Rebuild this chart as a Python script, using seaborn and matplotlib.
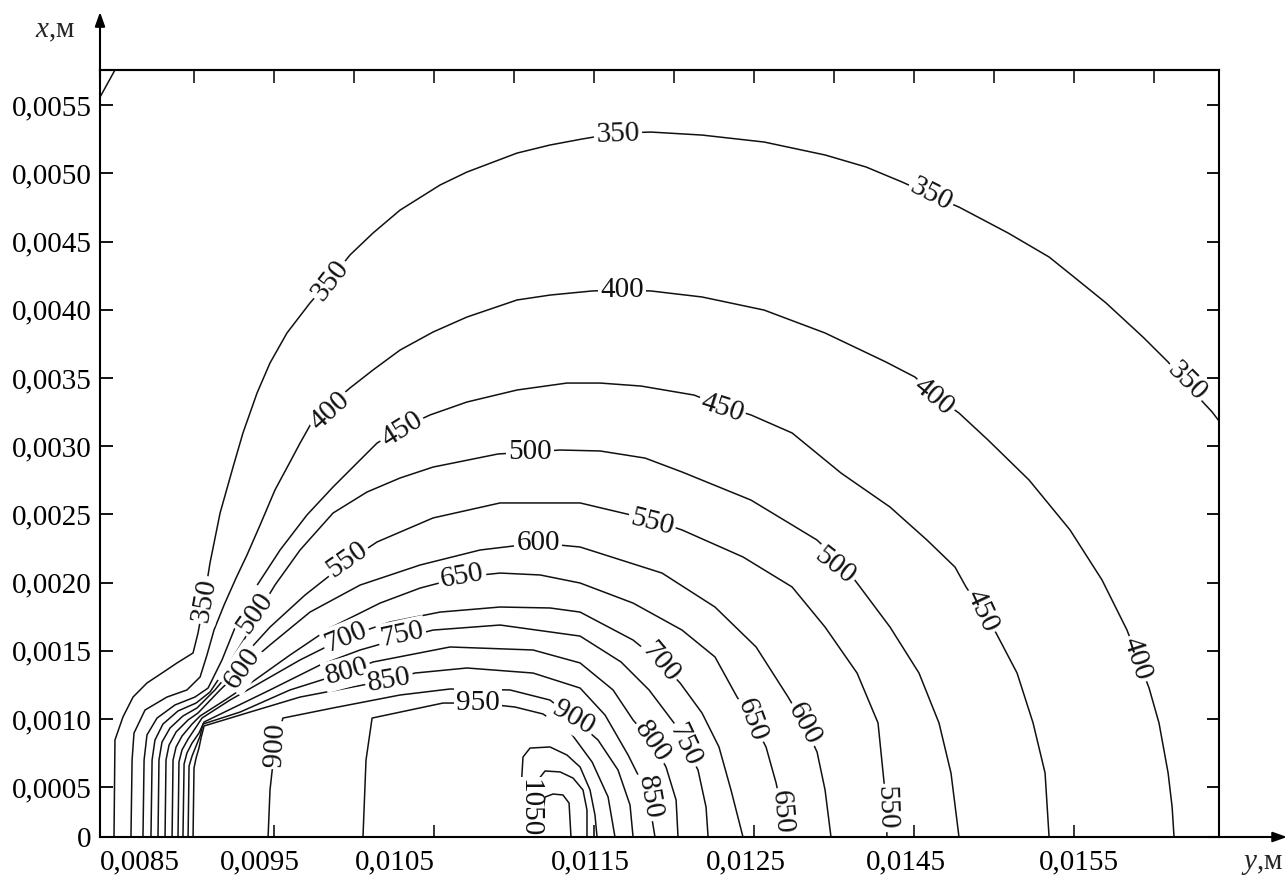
import numpy as np
import pandas as pd
import matplotlib
matplotlib.use("Agg")
import matplotlib.pyplot as plt
import seaborn as sns

# ---------------- data: isotherms, points (y, x) in millimetres ----------------
iso_350 = [(8.500,0.135),(8.506,0.846),(8.556,1.015),(8.619,1.161),(8.706,1.264),(8.800,1.337),
           (8.894,1.411),(8.994,1.484),(9.025,1.630),(9.063,1.872),(9.100,2.144),(9.163,2.510),
           (9.244,2.847),(9.306,3.097),(9.394,3.390),(9.475,3.610),(9.581,3.830),(9.725,4.050),
           (9.850,4.218),(9.975,4.402),(10.119,4.563),(10.288,4.731),(10.538,4.915),(10.706,5.010),
           (11.019,5.149),(11.225,5.208),(11.425,5.252),(11.650,5.296),(11.856,5.303),(12.175,5.281),
           (12.563,5.230),(12.944,5.135),(13.200,5.047),(13.425,4.937),(13.606,4.841),(13.781,4.753),
           (14.088,4.563),(14.344,4.387),(14.500,4.240),(14.700,4.050),(14.931,3.800),(15.088,3.617),
           (15.206,3.449),(15.363,3.251),(15.406,3.185)]
iso_350_corner = [(8.413,5.560),(8.506,5.758)]
iso_400 = [(8.606,0.135),(8.613,0.699),(8.625,0.897),(8.694,1.066),(8.831,1.161),(8.956,1.213),
           (9.038,1.308),(9.081,1.469),(9.125,1.652),(9.188,1.836),(9.263,2.034),(9.331,2.202),
           (9.413,2.422),(9.506,2.679),(9.600,2.884),(9.663,3.023),(9.744,3.192),(9.850,3.302),
           (9.975,3.427),(10.119,3.559),(10.288,3.705),(10.494,3.837),(10.706,3.947),(11.019,4.072),
           (11.225,4.108),(11.488,4.138),(11.675,4.145),(11.856,4.138),(12.175,4.094),(12.563,3.998),
           (12.944,3.830),(13.325,3.617),(13.506,3.507),(13.625,3.375),(13.781,3.243),(13.963,3.045),
           (14.219,2.752),(14.475,2.386),(14.675,2.019),(14.831,1.652),(14.900,1.440),(14.969,1.227),
           (15.031,0.971),(15.088,0.604),(15.113,0.355),(15.125,0.135)]
iso_450 = [(8.681,0.135),(8.688,0.699),(8.706,0.883),(8.769,1.007),(8.881,1.103),(9.006,1.161),
           (9.088,1.227),(9.175,1.433),(9.263,1.689),(9.375,1.946),(9.538,2.239),(9.706,2.496),
           (9.869,2.701),(10.038,2.899),(10.144,3.023),(10.300,3.133),(10.475,3.229),(10.706,3.324),
           (11.019,3.412),(11.331,3.463),(11.538,3.463),(11.794,3.441),(12.125,3.375),(12.300,3.295),
           (12.481,3.229),(12.738,3.097),(13.044,2.803),(13.350,2.554),(13.581,2.312),(13.756,2.114),
           (13.825,1.968),(13.925,1.792),(14.013,1.630),(14.144,1.337),(14.244,0.971),(14.319,0.604),
           (14.344,0.135)]
iso_500 = [(8.731,0.135),(8.738,0.699),(8.756,0.846),(8.806,0.963),(8.900,1.059),(9.013,1.117),
           (9.100,1.198),(9.213,1.396),(9.319,1.594),(9.400,1.777),(9.506,1.982),(9.663,2.239),
           (9.869,2.510),(10.081,2.664),(10.288,2.767),(10.494,2.847),(10.900,2.943),(11.100,2.957),
           (11.288,2.972),(11.538,2.965),(11.819,2.913),(12.050,2.811),(12.481,2.605),(12.894,2.312),
           (13.056,2.129),(13.144,1.997),(13.350,1.674),(13.531,1.337),(13.656,0.971),(13.731,0.604),
           (13.781,0.135)]
iso_550 = [(8.775,0.135),(8.781,0.699),(8.800,0.831),(8.850,0.934),(8.931,1.022),(9.019,1.081),
           (9.131,1.213),(9.288,1.433),(9.475,1.674),(9.694,1.909),(9.956,2.151),(10.144,2.298),
           (10.494,2.474),(10.913,2.584),(11.413,2.584),(11.863,2.459),(12.050,2.386),(12.431,2.188),
           (12.738,1.968),(12.944,1.674),(13.144,1.337),(13.275,0.971),(13.313,0.531),(13.325,0.348),
           (13.331,0.135)]
iso_600 = [(8.819,0.135),(8.825,0.699),(8.844,0.809),(8.888,0.905),(8.963,0.993),(9.025,1.044),
           (9.163,1.213),(9.306,1.374),(9.475,1.543),(9.725,1.784),(10.038,1.982),(10.413,2.129),
           (10.788,2.239),(11.150,2.290),(11.413,2.261),(11.925,2.070),(12.256,1.821),(12.513,1.528),
           (12.713,1.161),(12.813,0.963),(12.894,0.758),(12.944,0.480),(12.981,0.135)]
iso_650 = [(8.863,0.135),(8.869,0.699),(8.888,0.795),(8.925,0.875),(8.988,0.963),(9.038,1.022),
           (9.194,1.139),(9.381,1.286),(9.600,1.469),(9.850,1.667),(10.163,1.850),(10.413,1.960),
           (10.675,2.041),(10.913,2.070),(11.163,2.056),(11.413,1.997),(11.744,1.850),(12.050,1.652),
           (12.256,1.455),(12.394,1.161),(12.488,0.993),(12.575,0.795),(12.638,0.531),(12.675,0.318),
           (12.694,0.135)]
iso_700 = [(8.900,0.135),(8.906,0.685),(8.925,0.773),(8.963,0.853),(9.013,0.941),(9.050,1.007),
           (9.225,1.139),(9.444,1.286),(9.663,1.433),(9.950,1.601),(10.225,1.711),(10.538,1.784),
           (10.913,1.821),(11.225,1.814),(11.413,1.784),(11.744,1.579),(11.913,1.418),(12.038,1.264),
           (12.175,1.044),(12.281,0.795),(12.356,0.480),(12.431,0.135)]
iso_750 = [(8.931,0.135),(8.938,0.670),(8.956,0.751),(8.988,0.824),(9.031,0.897),(9.063,0.978),
           (9.256,1.088),(9.475,1.213),(9.788,1.396),(10.038,1.506),(10.300,1.594),(10.494,1.652),
           (10.913,1.689),(11.413,1.608),(11.669,1.418),(11.844,1.213),(12.000,0.971),(12.069,0.809),
           (12.150,0.626),(12.200,0.355),(12.213,0.135)]
iso_800 = [(8.963,0.135),(8.969,0.655),(8.988,0.729),(9.013,0.802),(9.038,0.875),(9.056,0.963),
           (9.288,1.051),(9.600,1.213),(9.956,1.345),(10.119,1.418),(10.600,1.528),(11.119,1.506),
           (11.413,1.411),(11.619,1.213),(11.744,0.993),(11.863,0.831),(11.950,0.648),(12.013,0.406),
           (12.025,0.135)]
iso_850 = [(8.994,0.135),(9.000,0.641),(9.013,0.714),(9.031,0.787),(9.044,0.861),(9.063,0.949),
           (9.350,1.051),(9.663,1.161),(10.219,1.286),(10.381,1.337),(10.706,1.374),(11.119,1.337),
           (11.413,1.227),(11.569,1.029),(11.713,0.736),(11.838,0.443),(11.881,0.135)]
iso_900 = [(9.463,0.135),(9.475,0.480),(9.506,0.809),(9.556,1.007),(9.869,1.081),(10.288,1.176),
           (10.600,1.220),(10.975,1.213),(11.225,1.139),(11.369,1.007),(11.525,0.846),(11.650,0.626),
           (11.725,0.370),(11.744,0.135)]
iso_950 = [(10.056,0.135),(10.075,0.699),(10.113,1.007),(10.556,1.117),(10.775,1.117),(11.006,1.088),
           (11.181,1.037),(11.350,0.905),(11.488,0.685),(11.588,0.428),(11.631,0.135)]
iso_1000 = [(11.038,0.135),(11.044,0.480),(11.056,0.721),(11.100,0.787),(11.225,0.795),(11.331,0.736),
            (11.413,0.648),(11.475,0.480),(11.506,0.296),(11.519,0.135)]
iso_1050 = [(11.106,0.135),(11.113,0.406),(11.150,0.553),(11.194,0.619),(11.288,0.612),(11.369,0.567),
            (11.431,0.480),(11.456,0.333),(11.456,0.135)]
iso_1100 = [(11.175,0.135),(11.181,0.333),(11.194,0.428),(11.244,0.450),(11.306,0.443),(11.344,0.384),
            (11.350,0.260),(11.356,0.135)]

# contour labels: text, y (mm), x (mm), rotation (deg)
iso_labels = [("350", 11.650, 5.285, 2), ("350", 9.850, 4.218, 52), ("350", 9.063, 1.872, 80),
              ("350", 13.606, 4.841, -27), ("350", 15.206, 3.478, -45),
              ("400", 9.850, 3.258, 42), ("400", 11.675, 4.145, 0), ("400", 13.625, 3.361, -40),
              ("400", 14.894, 1.440, -72),
              ("450", 10.300, 3.119, 32), ("450", 12.300, 3.280, -18), ("450", 13.925, 1.792, -65),
              ("500", 11.100, 2.957, 0), ("500", 9.381, 1.777, 55), ("500", 13.006, 2.122, -38),
              ("550", 9.956, 2.166, 35), ("550", 11.863, 2.444, -14), ("550", 13.325, 0.348, -88),
              ("600", 11.150, 2.290, 0), ("600", 9.306, 1.374, 55), ("600", 12.813, 0.963, -62),
              ("650", 10.675, 2.048, 10), ("650", 12.488, 0.993, -70), ("650", 12.675, 0.318, -85),
              ("700", 9.950, 1.601, 22), ("700", 11.913, 1.418, -50),
              ("750", 10.300, 1.616, 12), ("750", 12.069, 0.809, -65),
              ("800", 9.956, 1.345, 15), ("800", 11.863, 0.831, -55),
              ("850", 10.219, 1.286, 10), ("850", 11.850, 0.428, -80),
              ("900", 9.506, 0.809, 87), ("900", 11.369, 1.007, -30),
              ("950", 10.775, 1.117, 0), ("1050", 11.094, 0.345, -90)]

# axis ticks
x_tick_labels = ["0,0085", "0,0095", "0,0105", "0,0115", "0,0125", "0,0145", "0,0155"]
x_tick_label_pos = [0.008663, 0.009413, 0.010256, 0.011475, 0.012450, 0.013450, 0.014531]
x_tick_marks_bottom = [0.0095, 0.0105, 0.0115, 0.0125, 0.0135, 0.0145]
x_tick_marks_top = [0.0090 + 0.0005 * k for k in range(13)]
y_tick_labels = ["0", "0,0005", "0,0010", "0,0015", "0,0020", "0,0025", "0,0030",
                 "0,0035", "0,0040", "0,0045", "0,0050", "0,0055"]
y_tick_pos = [0.000135, 0.0005, 0.0010, 0.0015, 0.0020, 0.0025, 0.0030,
              0.0035, 0.0040, 0.0045, 0.0050, 0.0055]

isolines = [("350", 350, iso_350), ("350c", 350, iso_350_corner), ("400", 400, iso_400),
            ("450", 450, iso_450), ("500", 500, iso_500), ("550", 550, iso_550),
            ("600", 600, iso_600), ("650", 650, iso_650), ("700", 700, iso_700),
            ("750", 750, iso_750), ("800", 800, iso_800), ("850", 850, iso_850),
            ("900", 900, iso_900), ("950", 950, iso_950), ("1000", 1000, iso_1000),
            ("1050", 1050, iso_1050), ("1100", 1100, iso_1100)]

rows = []
for seg, lvl, pts in isolines:
    for k, (yy, xx) in enumerate(pts):
        rows.append({"seg": seg, "level": lvl, "order": k, "y": yy / 1000.0, "x": xx / 1000.0})
df = pd.DataFrame(rows)

# ---------------- style ----------------
sns.set_theme(style="white")
plt.rcParams["font.family"] = ["Liberation Serif", "DejaVu Serif"]
plt.rcParams["mathtext.fontset"] = "custom"
plt.rcParams["mathtext.rm"] = "Liberation Serif"
plt.rcParams["mathtext.it"] = "Liberation Serif:italic"

FS = 21

fig = plt.figure(figsize=(12.88, 8.75), dpi=100)
ax = fig.add_axes([100 / 1288, 38 / 875, 1119 / 1288, 767 / 875])

sns.lineplot(data=df, x="y", y="x", units="seg", estimator=None, sort=False,
             color="#111111", linewidth=1.1, ax=ax, legend=False)

for txt, yy, xx, rot in iso_labels:
    ax.text(yy / 1000.0, xx / 1000.0, txt, rotation=rot, rotation_mode="anchor",
            ha="center", va="center", fontsize=FS, color="#111111", zorder=5,
            bbox=dict(boxstyle="square,pad=0.08", fc="white", ec="none"))

ax.set_xlim(0.0084125, 0.015406)
ax.set_ylim(0.000135, 0.005758)
ax.set_xlabel("")
ax.set_ylabel("")

for sp in ax.spines.values():
    sp.set_visible(True)
    sp.set_color("black")
    sp.set_linewidth(1.5)
    sp.set_zorder(10)

ax.set_yticks(y_tick_pos, y_tick_labels)
ax.tick_params(axis="y", which="major", direction="in", length=9, width=1.3,
               left=True, right=True, labelleft=True, labelright=False,
               labelsize=FS, pad=6, colors="black")

ax.set_xticks(x_tick_label_pos, x_tick_labels)
ax.set_xticks(x_tick_marks_bottom, minor=True)
ax.tick_params(axis="x", which="major", length=0, pad=9, labelsize=FS, colors="black")
ax.tick_params(axis="x", which="minor", direction="in", length=9, width=1.3,
               bottom=True, top=False)

sec = ax.secondary_xaxis("top")
sec.set_xticks(x_tick_marks_top)
sec.tick_params(direction="in", length=9, width=1.3, labeltop=False, top=True)
sec.spines["top"].set_linewidth(1.5)

# axis arrows
ax.annotate("", xy=(0, 1.0756), xytext=(0, 0.99), xycoords="axes fraction",
            arrowprops=dict(arrowstyle="-|>,head_length=0.7,head_width=0.25", lw=1.5,
                            color="black", shrinkA=0, shrinkB=0), annotation_clip=False)
ax.annotate("", xy=(1.0608, 0), xytext=(0.99, 0), xycoords="axes fraction",
            arrowprops=dict(arrowstyle="-|>,head_length=0.7,head_width=0.25", lw=1.5,
                            color="black", shrinkA=0, shrinkB=0), annotation_clip=False)

ax.text(-0.0402, 1.0508, r"$x$,м", transform=ax.transAxes, fontsize=FS,
        ha="center", va="center", clip_on=False)
ax.text(1.0384, -0.0352, r"$y$,м", transform=ax.transAxes, fontsize=FS,
        ha="center", va="center", clip_on=False)

fig.savefig("out.png", dpi=100, facecolor="white")
